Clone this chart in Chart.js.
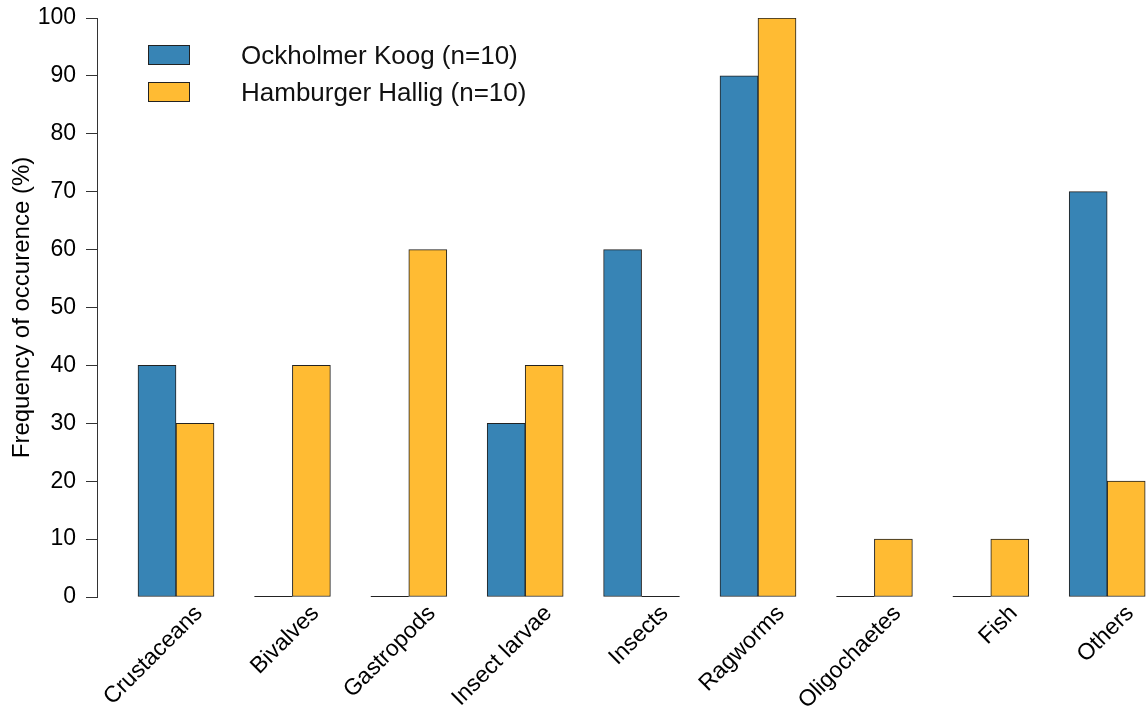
<!DOCTYPE html>
<html>
<head>
<meta charset="utf-8">
<script src="https://cdn.jsdelivr.net/npm/chart.js@4"></script>
<style>
  body { margin: 0; background: #fff; }
  canvas { display: block; }
</style>
</head>
<body>
<canvas id="myChart" width="1147" height="715"></canvas>
<script>
const categories = ['Crustaceans', 'Bivalves', 'Gastropods', 'Insect larvae', 'Insects', 'Ragworms', 'Oligochaetes', 'Fish', 'Others'];
const seriesNames = ['Ockholmer Koog (n=10)', 'Hamburger Hallig (n=10)'];
const ockholmer = [40, 0, 0, 30, 60, 90, 0, 0, 70];
const hamburger = [30, 40, 60, 40, 0, 100, 10, 10, 20];
const yTicks = [0, 10, 20, 30, 40, 50, 60, 70, 80, 90, 100];

const FONT = 'Liberation Sans, Arial, sans-serif';
const colors = ['#3784b5', '#ffbb33'];

// R draws zero-height bars as a flat outline, chart.js draws nothing
const zeroBars = {
  id: 'zeroBars',
  afterDatasetsDraw(chart) {
    const { ctx } = chart;
    chart.data.datasets.forEach((ds, di) => {
      chart.getDatasetMeta(di).data.forEach((bar, i) => {
        if (ds.data[i] !== 0) return;
        const { x, y, width } = bar.getProps(['x', 'y', 'width'], true);
        ctx.save();
        ctx.strokeStyle = '#222';
        ctx.lineWidth = 1;
        ctx.beginPath();
        ctx.moveTo(x - width / 2, Math.round(y) - 0.5);
        ctx.lineTo(x + width / 2, Math.round(y) - 0.5);
        ctx.stroke();
        ctx.restore();
      });
    });
  }
};

const boxLegend = {
  id: 'boxLegend',
  afterDraw(chart) {
    const { ctx } = chart;
    ctx.save();
    ctx.font = '26px ' + FONT;
    ctx.textBaseline = 'middle';
    chart.data.datasets.forEach((ds, i) => {
      const top = 45 + i * 37;
      ctx.fillStyle = ds.backgroundColor;
      ctx.fillRect(148, top, 42, 20);
      ctx.strokeStyle = '#222';
      ctx.lineWidth = 1;
      ctx.strokeRect(148.5, top + 0.5, 41, 19);
      ctx.fillStyle = '#111';
      ctx.fillText(ds.label, 241, top + 12);
    });
    ctx.restore();
  }
};

new Chart(document.getElementById('myChart'), {
  type: 'bar',
  data: {
    labels: categories.map((c, i) => i),
    datasets: [
      { label: seriesNames[0], data: ockholmer, backgroundColor: colors[0] },
      { label: seriesNames[1], data: hamburger, backgroundColor: colors[1] }
    ]
  },
  options: {
    responsive: false,
    animation: false,
    layout: { padding: { top: 18, right: 0, left: 0, bottom: 0 } },
    plugins: {
      legend: { display: false },
      tooltip: { enabled: false }
    },
    datasets: {
      bar: {
        barThickness: 38,
        borderWidth: 1,
        borderColor: '#222',
        borderSkipped: false
      }
    },
    scales: {
      x: {
        type: 'linear',
        offset: false,
        min: -0.6787,
        max: 8.342,
        afterBuildTicks(axis) {
          axis.ticks = categories.map((c, i) => ({ value: i }));
        },
        afterFit(axis) {
          axis.height = 118;
          axis.paddingLeft = 0;
          axis.paddingRight = 0;
        },
        grid: { display: false },
        border: { display: false },
        ticks: {
          autoSkip: false,
          minRotation: 45,
          maxRotation: 45,
          labelOffset: 23,
          padding: -5,
          color: '#000',
          font: { size: 23, family: FONT },
          callback: (v) => categories[v] ?? ''
        }
      },
      y: {
        min: 0,
        max: 100,
        afterBuildTicks(axis) {
          axis.ticks = yTicks.map(v => ({ value: v }));
        },
        afterFit(axis) {
          axis.width = 97;
          axis.paddingTop = 0;
          axis.paddingBottom = 0;
        },
        grid: {
          drawOnChartArea: false,
          tickLength: 11,
          color: '#333'
        },
        border: { display: true, color: '#333', width: 1 },
        ticks: {
          padding: 10,
          color: '#000',
          font: { size: 23, family: FONT }
        },
        title: {
          display: true,
          text: 'Frequency of occurence (%)',
          color: '#000',
          padding: { top: 8, bottom: 0 },
          font: { size: 24, family: FONT }
        }
      }
    }
  },
  plugins: [zeroBars, boxLegend]
});
</script>
</body>
</html>
